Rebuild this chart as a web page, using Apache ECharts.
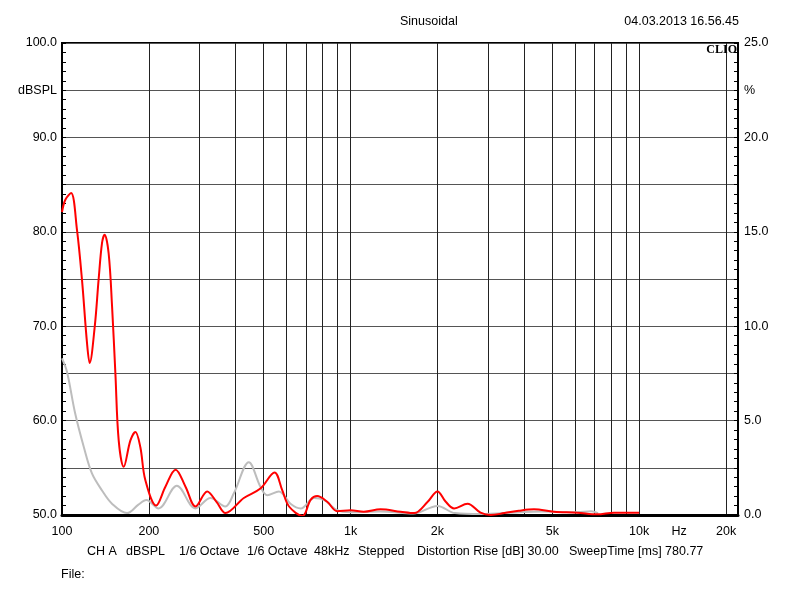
<!DOCTYPE html>
<html>
<head>
<meta charset="utf-8">
<script src="https://cdn.jsdelivr.net/npm/echarts@6/dist/echarts.min.js"></script>
<style>
html,body{margin:0;padding:0;background:#fff;}
#chart{width:800px;height:600px;}
</style>
</head>
<body>
<div id="chart"></div>
<script>
// Frequency response (red, dBSPL, left axis)
var freqRed = [100,102.7,107.5,112.7,117.3,122.1,124.7,129.8,133.9,137.6,140.5,145.1,149.1,153.1,157.2,163.6,172.6,179.6,186.8,194.4,211.9,228.2,247.4,267.9,290.2,318.5,343,368.4,426.6,487,545,580,612,681,727,766,830,899,1000,1111,1270,1490,1660,1850,2000,2137,2284,2542,2820,3060,3410,3830,4320,5060,6100,7160,8180,10000];
var dbRed   = [82.1,83.4,84.1,80.2,74.9,68.2,66.1,69.9,74.9,78.8,79.7,77.7,72.1,65.0,57.9,55.1,57.9,58.8,57.2,53.7,51.0,53.0,54.8,53.0,50.9,52.5,51.4,50.2,51.8,52.8,54.5,52.6,50.9,49.9,51.6,52.0,51.4,50.4,50.5,50.35,50.6,50.35,50.2,51.4,52.5,51.4,50.7,51.2,50.25,50.0,50.2,50.45,50.6,50.35,50.25,50.07,50.25,50.25];
// Distortion (grey, %, right axis)
var freqGray = [100,104,111,119,127,137.6,149,168,184,196,216,250,290,327,368,394,444,487,514,564,619,672,747,808,899,1000,1270,1650,2000,2300,2820,3860,4600,6100,6820,7200];
var pctGray  = [8.3,7.6,5.4,3.6,2.2,1.3,0.6,0.1,0.55,0.8,0.35,1.55,0.35,0.9,0.45,1.15,2.8,1.5,1.05,1.25,0.6,0.35,0.9,0.8,0.25,0.15,0.18,0.08,0.48,0.1,0.05,0.15,0.18,0.15,0.2,0.1];
// Axis ticks / labels
var xGridValues  = [200,300,400,500,600,700,800,900,1000,2000,3000,4000,5000,6000,7000,8000,9000,10000,20000];
var xLabelValues = [100,200,500,1000,2000,5000,10000,13750,20000];
var xLabelTexts  = ['100','200','500','1k','2k','5k','10k','Hz','20k'];
var infoItems = [['CH A',87],['dBSPL',126],['1/6 Octave',179],['1/6 Octave',247],['48kHz',314],['Stepped',358],['Distortion Rise [dB] 30.00',417],['SweepTime [ms] 780.77',569]];

var FONT = 'Liberation Sans, Arial, sans-serif';
function zip(a,b){var r=[];for(var i=0;i<a.length;i++)r.push([a[i],b[i]]);return r;}
function xLabel(v){
  var best=0,bd=1e9;
  for(var i=0;i<xLabelValues.length;i++){var d=Math.abs(Math.log(v)-Math.log(xLabelValues[i]));if(d<bd){bd=d;best=i;}}
  return xLabelTexts[best];
}

var chart = echarts.init(document.getElementById('chart'), null, {renderer:'canvas'});
var graphics = [
  {type:'text', left:400, top:15, style:{text:'Sinusoidal', font:'12.5px '+FONT, fill:'#000', textAlign:'center'}},
  {type:'text', right:61, top:15, style:{text:'04.03.2013 16.56.45', font:'12.5px '+FONT, fill:'#000'}},
  {type:'text', right:63, top:44, z:100, style:{text:'CLIO', font:'bold 12px Liberation Serif, Times New Roman, serif', fill:'#000'}},
  {type:'text', left:61, top:568, style:{text:'File:', font:'12.5px '+FONT, fill:'#000'}}
];
infoItems.forEach(function(it){
  graphics.push({type:'text', left:it[1], top:545, style:{text:it[0], font:'12.5px '+FONT, fill:'#000'}});
});

chart.setOption({
  animation:false,
  backgroundColor:'#fff',
  grid:{left:62, right:62, top:43, bottom:85, show:true, borderColor:'#000', borderWidth:2, containLabel:false},
  graphic: graphics,
  xAxis:{
    type:'log', logBase:10, min:100, max:22000,
    axisLine:{show:true, lineStyle:{color:'#000', width:3}},
    axisTick:{show:false, customValues:xGridValues},
    axisLabel:{customValues:xLabelValues, formatter:function(v){return xLabel(v);}, color:'#000', fontFamily:FONT, fontSize:12.5, margin:10},
    splitLine:{show:true, lineStyle:{color:'#222', width:1}},
    minorSplitLine:{show:false}
  },
  yAxis:[{
    type:'value', min:50, max:100, interval:5, position:'left',
    axisLine:{show:true, lineStyle:{color:'#000', width:2}},
    axisTick:{show:true, inside:true, length:4, lineStyle:{color:'#000'}},
    minorTick:{show:true, splitNumber:5, length:4, lineStyle:{color:'#000'}},
    axisLabel:{color:'#000', fontFamily:FONT, fontSize:12.5, margin:5, formatter:function(v){
      if (Math.abs(v-95)<1e-6) return 'dBSPL';
      if (Math.abs(v%10)<1e-6) return v.toFixed(1);
      return '';
    }},
    splitLine:{show:true, lineStyle:{color:'#555', width:1}}
  },{
    type:'value', min:0, max:25, interval:2.5, position:'right',
    axisLine:{show:true, lineStyle:{color:'#000', width:2}},
    axisTick:{show:true, inside:true, length:4, lineStyle:{color:'#000'}},
    minorTick:{show:true, splitNumber:5, length:4, lineStyle:{color:'#000'}},
    axisLabel:{color:'#000', fontFamily:FONT, fontSize:12.5, margin:6, formatter:function(v){
      if (Math.abs(v-22.5)<1e-6) return '%';
      if (Math.abs(v%5)<1e-6) return v.toFixed(1);
      return '';
    }},
    splitLine:{show:false}
  }],
  series:[{
    name:'THD', type:'line', yAxisIndex:1, data:zip(freqGray,pctGray), smooth:0.35,
    showSymbol:false, symbol:'none', lineStyle:{color:'#bdbdbd', width:2}, z:3
  },{
    name:'SPL', type:'line', yAxisIndex:0, data:zip(freqRed,dbRed), smooth:0.35,
    showSymbol:false, symbol:'none', lineStyle:{color:'#ff0000', width:2}, z:4
  }]
});
</script>
</body>
</html>
